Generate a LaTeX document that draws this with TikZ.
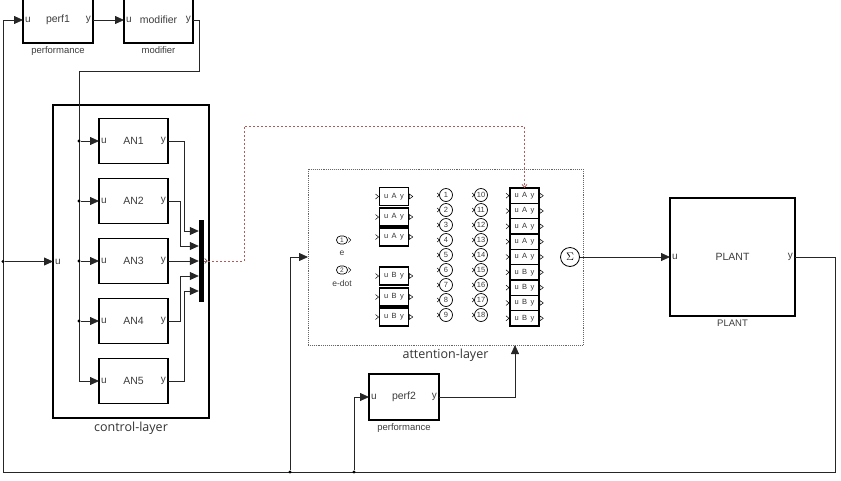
\documentclass[tikz,border=0pt]{standalone}
\usepackage{fontspec}
\setmainfont{Liberation Sans}
\newfontfamily\layerfont{Open Sans}
\newfontfamily\portfont[LetterSpace=18]{Liberation Sans}
\usepackage{tikz}
\usetikzlibrary{arrows.meta,calc,positioning}
\definecolor{sigred}{RGB}{180,90,90}
\definecolor{txtgray}{RGB}{60,60,60}

\tikzset{
	wire/.style={line width=0.8pt, black!85},
	arrow/.style={wire, -{Triangle[length=9pt,width=8pt]}},
	sigline/.style={line width=0.8pt, sigred, dash pattern=on 2pt off 2pt, -{Straight Barb[length=3pt,width=5pt]}},
	junction/.style={circle, fill=black, inner sep=0pt, minimum size=3.2pt},
	block/.style={draw, line width=1.8pt, inner sep=0pt, outer sep=0pt, text=txtgray, font=\fontsize{10.5}{12}\selectfont},
	ports/.style={label={[anchor=west, inner sep=2pt, text=txtgray, font=\fontsize{10}{12}\selectfont]west:u},
		label={[anchor=east, inner sep=2pt, text=txtgray, font=\fontsize{10}{12}\selectfont]east:y}},
	title/.style={label={[label distance=0pt, text=txtgray, font=\fontsize{9.5}{11}\selectfont]below:#1}},
	layer/.style={label={[label distance=0pt, text=black!80, font=\layerfont\fontsize{12.5}{14}\selectfont]below:#1}},
	portname/.style={label={[label distance=6pt, inner sep=0pt, text=txtgray, font=\fontsize{8.5}{9}\selectfont]below:#1}},
	minibox/.style={draw, line width=1.4pt, inner sep=0pt, outer sep=0pt, minimum width=29pt, text=black!80, font=\portfont\fontsize{7.5}{8}\selectfont},
	outport/.style={circle, draw, line width=0.7pt, inner sep=0pt, minimum size=13pt, text=txtgray, font=\fontsize{7.5}{8}\selectfont},
	inport/.style={draw, line width=0.7pt, rounded corners=4pt, inner sep=0pt, minimum width=11pt, minimum height=8pt, text=txtgray, font=\fontsize{6.5}{7}\selectfont}
}

\begin{document}
\begin{tikzpicture}[x=1pt,y=-1pt]
	\useasboundingbox (0,0) rectangle (841,480);
	% Top row
	\node[block, ports, title=performance, minimum width=70pt, minimum height=46pt] (perf1) at (58,20) {perf1};
	\node[block, ports, title=modifier, minimum width=69pt, minimum height=46pt] (modifier) at (158.5,20) {modifier};
	\draw[arrow] (perf1.east) -- (modifier.west);
	% Control layer
	\node[block, layer=control-layer, minimum width=156pt, minimum height=313pt,
		label={[anchor=west, inner sep=2pt, text=txtgray, font=\fontsize{10}{12}\selectfont]west:u}] (ctrl) at (131,261.5) {};
	\foreach \i in {1,...,5}
		\node[block, ports, minimum width=69pt, minimum height=45pt] (AN\i) at (133.5,{141+60*(\i-1)}) {AN\i};
	\node[fill=black, inner sep=0pt, minimum width=5pt, minimum height=82pt] (mux) at (201.5,261) {};
	\coordinate (bus) at (79,71);
	\draw[arrow] (modifier.east) -- ++(6,0) |- (bus) |- (AN5.west);
	\foreach \i in {1,...,4} {
		\node[junction] (jAN\i) at (bus |- AN\i.west) {};
		\draw[arrow] (jAN\i) -- (AN\i.west);
	}
	\foreach \i/\dx in {1/16,2/12,4/12,5/16}
		\draw[arrow] (AN\i.east) -- ++(\dx,0) |- ($(mux.west)+(0,{(\i-3)*15})$);
	\draw[arrow] (AN3.east) -- (mux.west);
	\draw[wire, line width=0.5pt] ($(mux.east)+(0.5,-2.5)$) -- ++(2.5,2.5) -- ++(-2.5,2.5);
	% Attention layer
	\node[draw=black!60, line width=0.9pt, densely dotted, minimum width=275pt, minimum height=176pt,
		inner sep=0pt, outer sep=0pt, layer=attention-layer] (att) at (445.5,257) {};
	\node[inport, portname=e] (in1) at (342,240) {1};
	\node[inport, portname=e-dot] (in2) at (342,270) {2};
	\foreach \j/\yy in {1/196.5,2/217,3/237}
		\node[minibox, minimum height=18pt] (A\j) at (394,\yy) {u A y};
	\foreach \j/\yy in {1/276,2/297,3/317}
		\node[minibox, minimum height=18pt] (B\j) at (394,\yy) {u B y};
	\foreach \k/\t in {1/A,2/A,3/A,4/A,5/A,6/B,7/B,8/B,9/B}
		\node[minibox, minimum height=15.33pt] (C\k) at (524.5,{188+15.33*(\k-0.5)}) {u \t\ y};
	\foreach \n in {1,...,9}
		\node[outport] (o\n) at (446,{195+15*(\n-1)}) {\n};
	\foreach \n in {10,...,18}
		\node[outport] (o\n) at (481,{195+15*(\n-10)}) {\n};
	% port marks
	\foreach \b in {A1,A2,A3,B1,B2,B3,C1,C2,C3,C4,C5,C6,C7,C8,C9} {
		\draw[line width=0.5pt] ($(\b.west)+(-4,-2.5)$) -- ++(3,2.5) -- ++(-3,2.5);
		\draw[line width=0.5pt] ($(\b.east)+(0.8,-2.5)$) -- ++(3.5,2.5) -- ++(-3.5,2.5) -- cycle;
	}
	\foreach \n in {1,...,18}
		\draw[line width=0.5pt] ($(o\n.west)+(-2,-2)$) -- ++(2,2) -- ++(-2,2);
	\foreach \p in {in1,in2}
		\draw[line width=0.5pt] ($(\p.east)+(0.5,-2.5)$) -- ++(2.5,2.5) -- ++(-2.5,2.5);
	\node[circle, draw, line width=0.8pt, minimum size=19pt, inner sep=0pt, font=\fontsize{11}{12}\selectfont] (sum) at (570,257) {$\Sigma$};
	\draw[sigline] (mux.east) -| (244,126) -| (C1.north);
	% Plant
	\node[block, ports, title=PLANT, minimum width=125pt, minimum height=118pt] (plant) at (732.5,257) {PLANT};
	\draw[arrow] (sum.east) -- (plant.west);
	% perf2
	\node[block, ports, title=performance, minimum width=70pt, minimum height=46pt] (perf2) at (404,397) {perf2};
	\coordinate (attin) at (515,345);
	\draw[arrow] (perf2.east) -| (attin);
	% Feedback
	\coordinate (fbR) at (835,472);
	\coordinate (fbL) at (3,472);
	\draw[arrow] (plant.east) -| (fbR) -- (fbL) |- (perf1.west);
	\node[junction] (jc) at (fbL |- ctrl.west) {};
	\draw[arrow] (jc) -- (ctrl.west);
	\node[junction] (ja) at (290,472) {};
	\draw[arrow] (ja) |- (att.west);
	\node[junction] (jp) at (354,472) {};
	\draw[arrow] (jp) |- (perf2.west);
\end{tikzpicture}
\end{document}
